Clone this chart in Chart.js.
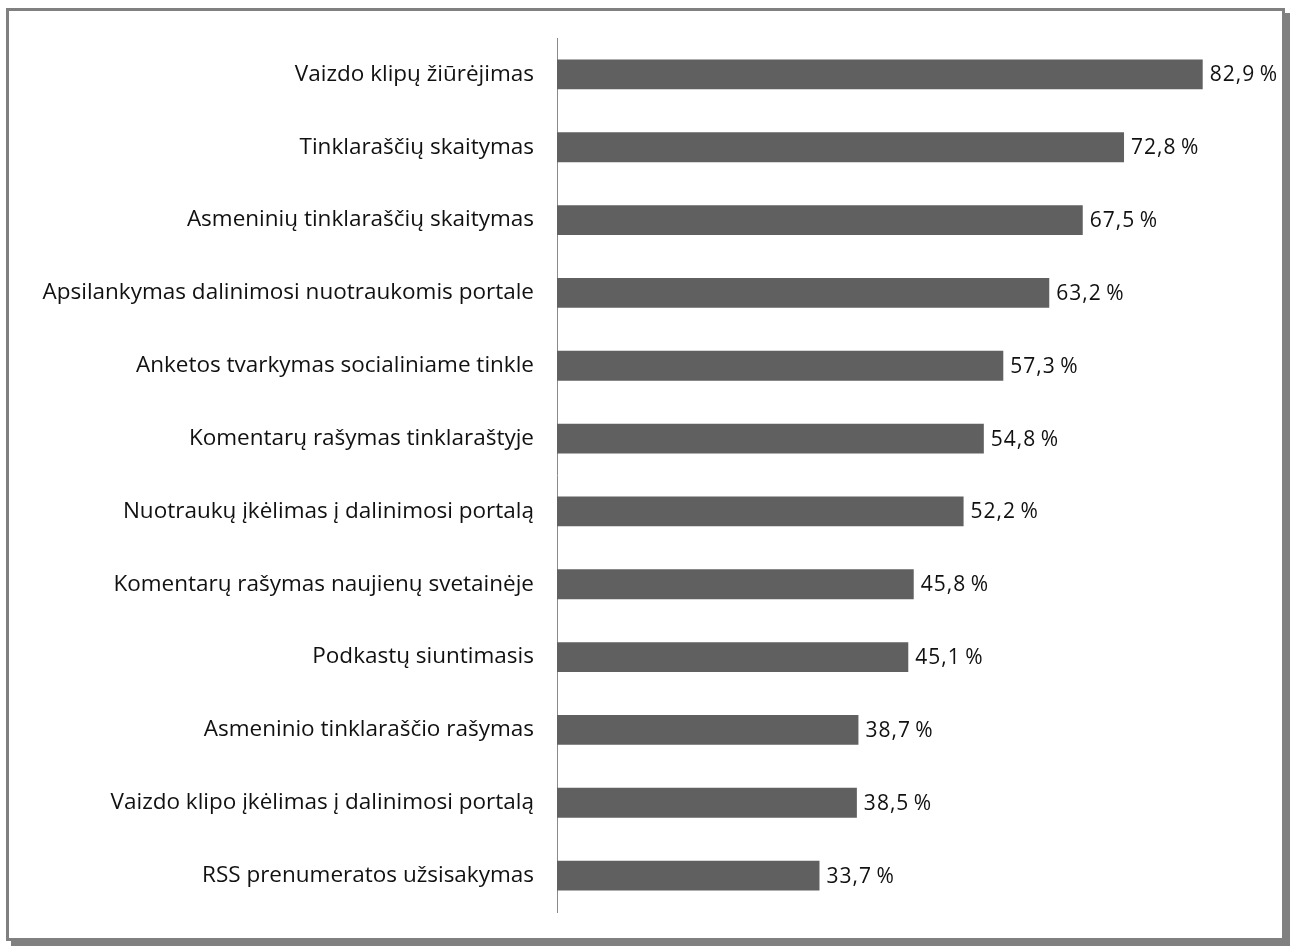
<!DOCTYPE html>
<html>
<head>
<meta charset="utf-8">
<script src="https://cdn.jsdelivr.net/npm/chart.js@4"></script>
<style>
  html, body { margin: 0; padding: 0; background: #fff; }
  .frame {
    position: absolute;
    left: 6px; top: 8px;
    width: 1273px; height: 927px;
    border: 3px solid #808080;
    box-shadow: 5px 5px 0 #808080;
    background: #fff;
  }
  #chart { position: absolute; left: 0; top: 0; }
</style>
</head>
<body>
<div class="frame"></div>
<canvas id="chart" width="1291" height="949"></canvas>
<script>
const categories = [
  'Vaizdo klipų žiūrėjimas',
  'Tinklaraščių skaitymas',
  'Asmeninių tinklaraščių skaitymas',
  'Apsilankymas dalinimosi nuotraukomis portale',
  'Anketos tvarkymas socialiniame tinkle',
  'Komentarų rašymas tinklaraštyje',
  'Nuotraukų įkėlimas į dalinimosi portalą',
  'Komentarų rašymas naujienų svetainėje',
  'Podkastų siuntimasis',
  'Asmeninio tinklaraščio rašymas',
  'Vaizdo klipo įkėlimas į dalinimosi portalą',
  'RSS prenumeratos užsisakymas',
];
const values = [82.9, 72.8, 67.5, 63.2, 57.3, 54.8, 52.2, 45.8, 45.1, 38.7, 38.5, 33.7];

const FONT = '"Open Sans", "Noto Sans", sans-serif';

// value labels next to each bar
const valueLabels = {
  id: 'valueLabels',
  afterDatasetsDraw(chart) {
    const ctx = chart.ctx;
    const meta = chart.getDatasetMeta(0);
    ctx.save();
    ctx.font = '21px ' + FONT;
    ctx.letterSpacing = '1px';
    ctx.fillStyle = '#111';
    ctx.textAlign = 'left';
    ctx.textBaseline = 'middle';
    meta.data.forEach((bar, i) => {
      const txt = values[i].toFixed(1).replace('.', ',') + '\u2009%';
      ctx.fillText(txt, bar.x + 7, bar.y + 1);
    });
    ctx.restore();
  }
};

new Chart(document.getElementById('chart'), {
  type: 'bar',
  data: {
    labels: categories,
    datasets: [{
      data: values,
      backgroundColor: '#606060',
      borderWidth: 0,
      categoryPercentage: 1,
      barPercentage: 0.41,
    }]
  },
  options: {
    indexAxis: 'y',
    responsive: false,
    animation: false,
    layout: { padding: { top: 38, bottom: 37, right: 33, left: 0 } },
    plugins: {
      legend: { display: false },
      tooltip: { enabled: false },
    },
    scales: {
      x: {
        display: false,
        min: 0,
        max: 90,
      },
      y: {
        afterFit(scale) { scale.width = 557; },
        grid: { display: false, drawTicks: false },
        border: { display: true, color: '#8a8a8a', width: 1 },
        ticks: {
          padding: 23,
          color: '#111',
          font: { family: FONT, size: 22.5 },
        },
      },
    },
  },
  plugins: [valueLabels],
});
</script>
</body>
</html>
